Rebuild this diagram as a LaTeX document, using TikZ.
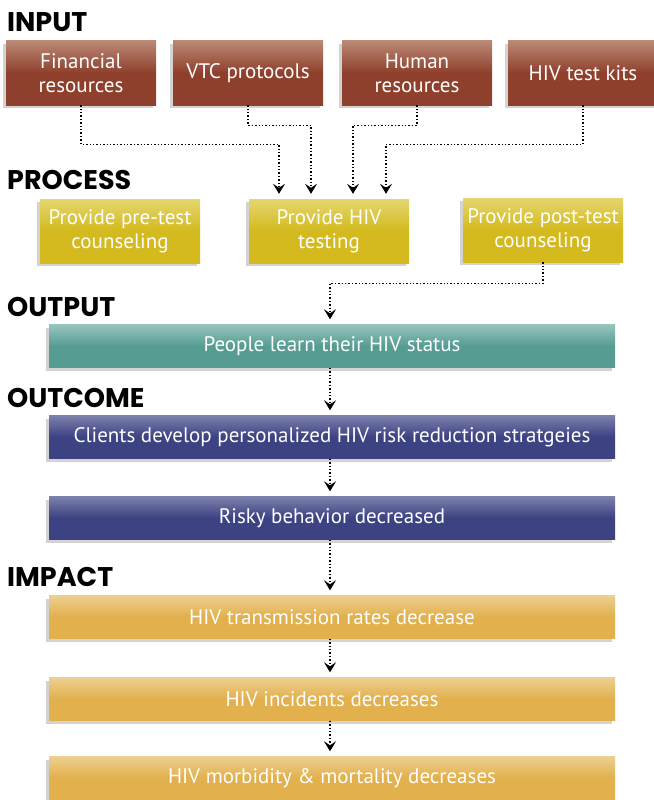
\documentclass[tikz,border=0pt]{standalone}
\usepackage{fontspec}
\setmainfont{PT Sans}
\newfontfamily\headfont{Poppins}
\usetikzlibrary{positioning}
\usetikzlibrary{shadows}
\usetikzlibrary{arrows.meta}

\definecolor{inlight}{RGB}{186,136,118}
\definecolor{indark}{RGB}{143,64,44}
\definecolor{prlight}{RGB}{228,214,112}
\definecolor{prdark}{RGB}{212,186,30}
\definecolor{oplight}{RGB}{150,196,190}
\definecolor{opdark}{RGB}{86,156,146}
\definecolor{oclight}{RGB}{124,128,172}
\definecolor{ocdark}{RGB}{60,66,130}
\definecolor{imlight}{RGB}{236,208,144}
\definecolor{imdark}{RGB}{226,176,76}

\tikzset{
  box/.style={inner sep=0pt, align=center, text=white,
    font=\fontsize{21}{24}\selectfont,
    drop shadow={shadow xshift=-3pt, shadow yshift=-3pt, opacity=0.35}},
  inbox/.style={box, minimum width=150pt, minimum height=64pt,
    top color=inlight, bottom color=indark, middle color=indark},
  prbox/.style={box, minimum width=160pt, minimum height=64pt,
    top color=prlight, bottom color=prdark, middle color=prdark},
  widebox/.style={box, minimum width=566pt, minimum height=43pt},
  opbox/.style={widebox, top color=oplight, bottom color=opdark, middle color=opdark},
  ocbox/.style={widebox, top color=oclight, bottom color=ocdark, middle color=ocdark},
  imbox/.style={widebox, top color=imlight, bottom color=imdark, middle color=imdark},
  stage/.style={anchor=west, inner sep=0pt, font=\headfont\bfseries\fontsize{27}{27}\selectfont},
  flow/.style={dotted, line width=1.4pt, shorten >=5pt,
    -{Stealth[length=10pt, width=12pt, inset=4pt]}}
}

\begin{document}
\begin{tikzpicture}[x=1pt,y=-1pt]
  \useasboundingbox (0,0) rectangle (653,800);

  % stage titles
  \node[stage] (tin) at (7,22) {INPUT};
  \node[stage] (tpr) at (7,180) {PROCESS};
  \node[stage] (top) at (7,307) {OUTPUT};
  \node[stage] (toc) at (7,398) {OUTCOME};
  \node[stage] (tim) at (7,577) {IMPACT};

  % input
  \node[inbox] (fin) at (81,73) {Financial\\resources};
  \node[inbox] (vtc) at (248,73) {VTC protocols};
  \node[inbox] (hum) at (417,73) {Human\\resources};
  \node[inbox] (kit) at (583,73) {HIV test kits};

  % process
  \node[prbox] (pre) at (120,231) {Provide pre-test\\counseling};
  \node[prbox] (tst) at (329,231) {Provide HIV\\testing};
  \node[prbox] (post) at (543,230) {Provide post-test\\counseling};

  % output, outcome, impact
  \node[opbox] (learn) at (332,346) {People learn their HIV status};
  \node[ocbox] (plan) at (332,437) {Clients develop personalized HIV risk reduction stratgeies};
  \node[ocbox] (risk) at (332,518) {Risky behavior decreased};
  \node[imbox] (trans) at (332,617) {HIV transmission rates decrease};
  \node[imbox] (inc) at (332,699) {HIV incidents decreases};
  \node[imbox] (morb) at (332,778) {HIV morbidity \& mortality decreases};

  % connectors
  \draw[flow] (fin.south) -- ++(0,39) -| ([xshift=-50pt]tst.north);
  \draw[flow] (vtc.south) -- ++(0,20) -| ([xshift=-18pt]tst.north);
  \draw[flow] (hum.south) -- ++(0,20) -| ([xshift=24pt]tst.north);
  \draw[flow] (kit.south) -- ++(0,39) -| ([xshift=57pt]tst.north);
  \draw[flow] (post.south) -- ++(0,21) -| ([xshift=-2pt]learn.north);
  \draw[flow] ([xshift=-2pt]learn.south) -- ([xshift=-2pt]plan.north);
  \draw[flow] ([xshift=-2pt]plan.south) -- ([xshift=-2pt]risk.north);
  \draw[flow] ([xshift=-2pt]risk.south) -- ([xshift=-2pt]trans.north);
  \draw[flow] ([xshift=-2pt]trans.south) -- ([xshift=-2pt]inc.north);
  \draw[flow] ([xshift=-2pt]inc.south) -- ([xshift=-2pt]morb.north);
\end{tikzpicture}
\end{document}
